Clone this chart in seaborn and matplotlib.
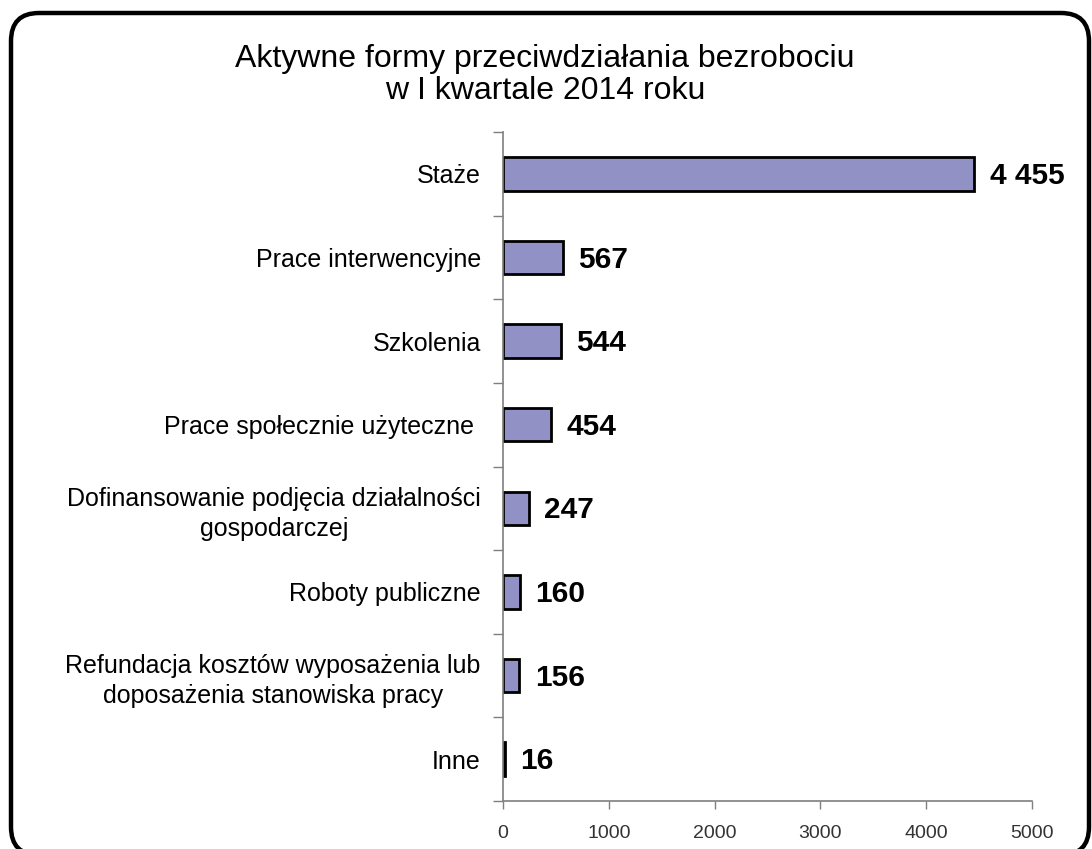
import numpy as np
import pandas as pd
import matplotlib
matplotlib.use("Agg")
import matplotlib.pyplot as plt
from matplotlib.patches import FancyBboxPatch
from matplotlib.ticker import FixedLocator
import seaborn as sns

# Data
categories = [
    "Staże",
    "Prace interwencyjne",
    "Szkolenia",
    "Prace społecznie użyteczne ",
    "Dofinansowanie podjęcia działalności\ngospodarczej",
    "Roboty publiczne",
    "Refundacja kosztów wyposażenia lub\ndoposażenia stanowiska pracy",
    "Inne",
]
values = [4455, 567, 544, 454, 247, 160, 156, 16]
xticks = [0, 1000, 2000, 3000, 4000, 5000]

df = pd.DataFrame({"forma": categories, "liczba": values})

sns.set_theme(style="white")
plt.rcParams["font.family"] = ["Liberation Sans", "DejaVu Sans"]
plt.rcParams["text.color"] = "black"

fig = plt.figure(figsize=(10.92, 8.49), dpi=100)
ax = fig.add_axes([0.4606, 0.0565, 0.4844, 0.788])

sns.barplot(
    data=df,
    y="forma",
    x="liczba",
    orient="h",
    width=0.4,
    color="#9191C6",
    edgecolor="black",
    linewidth=2,
    saturation=1,
    ax=ax,
)

ax.set_xlim(0, 5000)
ax.set_ylim(7.5, -0.5)
ax.set_xlabel("")
ax.set_ylabel("")

# value labels
for i, v in enumerate(values):
    lab = f"{v:,}".replace(",", " ")
    ax.annotate(lab, xy=(v, i), xytext=(11, -1.5), textcoords="offset points",
                ha="left", va="center", fontsize=21.5, fontweight="bold",
                color="black")

# axes styling
for s in ["top", "right"]:
    ax.spines[s].set_visible(False)
for s in ["left", "bottom"]:
    ax.spines[s].set_color("#7f7f7f")
    ax.spines[s].set_linewidth(1.2)

ax.set_xticks(xticks)
ax.set_xticklabels([str(t) for t in xticks], fontsize=14, color="#333333")
ax.tick_params(axis="x", bottom=True, length=6, width=1, color="#7f7f7f", pad=11)

ax.set_yticks(range(len(categories)))
ax.set_yticklabels(categories, fontsize=18, color="black")
for t in ax.get_yticklabels():
    t.set_multialignment("center")
    t.set_linespacing(1.3)
ax.tick_params(axis="y", which="major", left=True, length=0, pad=16)
ax.yaxis.set_minor_locator(FixedLocator(np.arange(-0.5, 8.0, 1.0)))
ax.tick_params(axis="y", which="minor", left=True, length=7, width=1, color="#7f7f7f")

# title
fig.text(0.499, 0.930, "Aktywne formy przeciwdziałania bezrobociu",
         ha="center", va="center", fontsize=23, color="black")
fig.text(0.499, 0.893, "w I kwartale 2014 roku",
         ha="center", va="center", fontsize=23, color="black")

# rounded frame around the chart
frame = FancyBboxPatch((0.11, -0.06), 10.78, 8.42,
                       boxstyle="round,pad=0,rounding_size=0.28",
                       transform=fig.dpi_scale_trans, fill=False,
                       edgecolor="black", linewidth=3.2, zorder=10)
fig.patches.append(frame)

fig.savefig("out.png", dpi=100, facecolor="white")
